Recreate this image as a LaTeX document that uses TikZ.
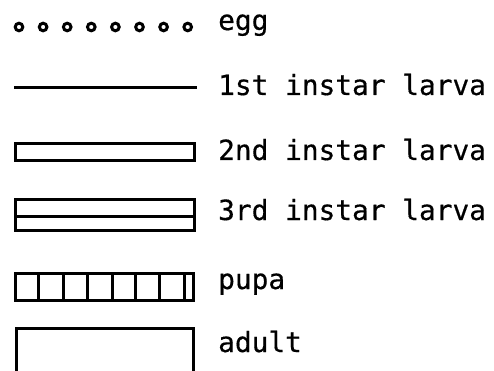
\documentclass[tikz,border=0pt]{standalone}
\usepackage{fontspec}
\newfontfamily\legendfont[FakeBold=0.5]{DejaVu Sans Mono}
\begin{document}
\begin{tikzpicture}[x=1pt,y=-1pt,
  shapeline/.style={line width=3pt,black},
  lbl/.style={anchor=base west,inner sep=0pt,font=\legendfont\fontsize{27.8}{30}\selectfont}]
\useasboundingbox (0,0) rectangle (494,371);
% egg
\foreach \i in {0,...,7} {\draw[shapeline] (19+\i*24.1,27) circle (3.8);}
\node[lbl] (egg) at (218,30) {egg};
% 1st instar
\draw[shapeline] (14,88) -- (197,88);
\node[lbl] (l1) at (218,95) {1st instar larva};
% 2nd instar
\draw[shapeline] (15,144) rectangle (194,161);
\node[lbl] (l2) at (218,160) {2nd instar larva};
% 3rd instar
\draw[shapeline] (15,199) rectangle (194,230);
\draw[shapeline] (15,216) -- (194,216);
\node[lbl] (l3) at (218,220) {3rd instar larva};
% pupa
\draw[shapeline] (15,273) rectangle (193,300);
\foreach \x in {38,63,87,112,135,159,184} {\draw[shapeline] (\x,273) -- (\x,300);}
\node[lbl] (pupa) at (218,289) {pupa};
% adult
\draw[shapeline] (16,375) -- (16,328) -- (193,328) -- (193,375);
\node[lbl] (adult) at (218,352) {adult};
\end{tikzpicture}
\end{document}
